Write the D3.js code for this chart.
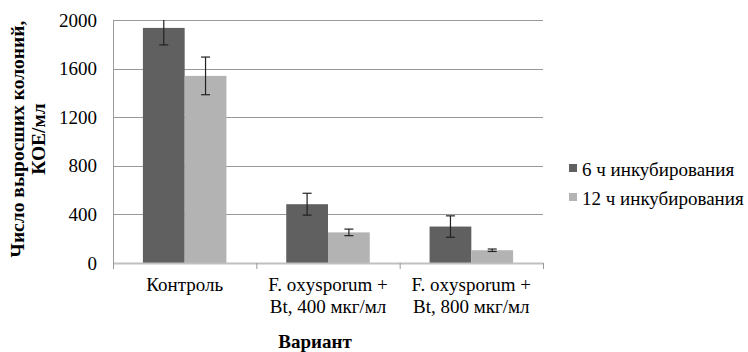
<!DOCTYPE html>
<html>
<head>
<meta charset="utf-8">
<script src="https://cdn.jsdelivr.net/npm/d3@7"></script>
<style>
  body { margin: 0; background: #fff; }
  #fig text { font-family: 'Liberation Serif', serif !important; }
</style>
</head>
<body>
<svg id="fig" width="748" height="352"></svg>
<script>
// данные с графика
const categories = ["Контроль", "F. oxysporum + Bt, 400 мкг/мл", "F. oxysporum + Bt, 800 мкг/мл"];
const catLines = [["Контроль"], ["F. oxysporum +", "Bt, 400 мкг/мл"], ["F. oxysporum +", "Bt, 800 мкг/мл"]];
const seriesNames = ["6 ч инкубирования", "12 ч инкубирования"];
const values6h = [1935, 484, 300];
const values12h = [1540, 252, 105];
const err6h = [140, 90, 88];
const err12h = [155, 27, 10];
const yTicks = [0, 400, 800, 1200, 1600, 2000];
const colors = ["#606060", "#b3b3b3"];

const FONT = "'Liberation Serif', serif";

const svg = d3.select("#fig");
const margin = { left: 113, right: 205, top: 20, bottom: 89 };
const W = 748, H = 352;

const x = d3.scaleBand().domain(categories).range([margin.left, W - margin.right]).paddingInner(0).paddingOuter(0);
const x1 = d3.scaleBand().domain([0, 1]).range([0, x.bandwidth()]).paddingInner(0).paddingOuter(0.716);
const y = d3.scaleLinear().domain([0, 2000]).range([H - margin.bottom, margin.top]);

// сетка
svg.append("g")
  .selectAll("line")
  .data(yTicks.filter(d => d > 0))
  .enter()
  .append("line")
  .attr("x1", margin.left)
  .attr("x2", W - margin.right)
  .attr("y1", d => Math.round(y(d)) + 0.5)
  .attr("y2", d => Math.round(y(d)) + 0.5)
  .attr("stroke", "#999")
  .attr("stroke-width", 1);

// столбцы
const rows = categories.map((c, i) => ({
  cat: c,
  vals: [
    { s: 0, v: values6h[i], e: err6h[i] },
    { s: 1, v: values12h[i], e: err12h[i] }
  ]
}));

const groups = svg.append("g")
  .selectAll("g")
  .data(rows)
  .enter()
  .append("g")
  .attr("transform", d => `translate(${x(d.cat)},0)`);

groups.selectAll("rect")
  .data(d => d.vals)
  .enter()
  .append("rect")
  .attr("x", d => x1(d.s))
  .attr("width", x1.bandwidth())
  .attr("y", d => y(d.v))
  .attr("height", d => y(0) - y(d.v))
  .attr("fill", d => colors[d.s]);

// планки погрешностей (обрезаются по 2000)
const clip = v => Math.min(v, 2000);
const cx = d => x1(d.s) + x1.bandwidth() / 2;
const eb = groups.selectAll("g.err")
  .data(d => d.vals)
  .enter()
  .append("g")
  .attr("class", "err")
  .attr("stroke", "#222")
  .attr("stroke-width", 1.2);

eb.append("line")
  .attr("x1", cx)
  .attr("x2", cx)
  .attr("y1", d => y(clip(d.v + d.e)))
  .attr("y2", d => y(d.v - d.e));
eb.append("line")
  .attr("x1", d => cx(d) - 4.5)
  .attr("x2", d => cx(d) + 4.5)
  .attr("y1", d => y(d.v - d.e))
  .attr("y2", d => y(d.v - d.e));
eb.filter(d => d.v + d.e <= 2000).append("line")
  .attr("x1", d => cx(d) - 4.5)
  .attr("x2", d => cx(d) + 4.5)
  .attr("y1", d => y(d.v + d.e))
  .attr("y2", d => y(d.v + d.e));

// ось Y
const yAxis = svg.append("g")
  .attr("transform", `translate(${margin.left},0)`)
  .call(d3.axisLeft(y).tickValues(yTicks).tickSize(0).tickPadding(16).tickFormat(d3.format("d")));
yAxis.select(".domain").attr("stroke", "#999");
yAxis.selectAll("text").attr("fill", "#000")
  .style("font-family", FONT).attr("font-size", 19);

// ось X
const xAxis = svg.append("g")
  .attr("transform", `translate(0,${y(0)})`)
  .call(d3.axisBottom(x).tickSize(0).tickFormat(""));
xAxis.select(".domain").attr("stroke", "#c0c0c0").attr("stroke-width", 2);
svg.append("g")
  .selectAll("line")
  .data(d3.range(categories.length + 1))
  .enter()
  .append("line")
  .attr("x1", i => (i < categories.length ? x(categories[i]) : x.range()[1]) + 0.5)
  .attr("x2", i => (i < categories.length ? x(categories[i]) : x.range()[1]) + 0.5)
  .attr("y1", y(0))
  .attr("y2", y(0) + 6)
  .attr("stroke", "#999");

// подписи категорий
const catText = svg.append("g")
  .selectAll("text")
  .data(categories)
  .enter()
  .append("text")
  .attr("x", d => x(d) + x.bandwidth() / 2)
  .attr("y", 291)
  .attr("text-anchor", "middle")
  .style("font-family", FONT)
  .attr("font-size", 19);
catText.selectAll("tspan")
  .data((d, i) => catLines[i])
  .enter()
  .append("tspan")
  .attr("x", function() { return d3.select(this.parentNode).attr("x"); })
  .attr("dy", (d, i) => i === 0 ? 0 : 22)
  .text(d => d);

// заголовки осей
svg.append("text")
  .attr("x", 315)
  .attr("y", 348)
  .attr("text-anchor", "middle")
  .style("font-family", FONT)
  .attr("font-size", 19)
  .attr("font-weight", "bold")
  .text("Вариант");

const yTitle = svg.append("text")
  .attr("transform", "translate(0,139) rotate(-90)")
  .attr("text-anchor", "middle")
  .style("font-family", FONT)
  .attr("font-size", 19.5)
  .attr("font-weight", "bold");
yTitle.append("tspan").attr("x", 0).attr("y", 24).text("Число выросших колоний,");
yTitle.append("tspan").attr("x", 0).attr("y", 45).text("КОЕ/мл");

// легенда
const legend = svg.append("g")
  .selectAll("g")
  .data(seriesNames)
  .enter()
  .append("g")
  .attr("transform", (d, i) => `translate(569,${164 + i * 29})`);
legend.append("rect")
  .attr("width", 8).attr("height", 8)
  .attr("fill", (d, i) => colors[i]);
legend.append("text")
  .attr("x", 13)
  .attr("y", 12)
  .style("font-family", FONT)
  .attr("font-size", 19)
  .text(d => d);
</script>
</body>
</html>
